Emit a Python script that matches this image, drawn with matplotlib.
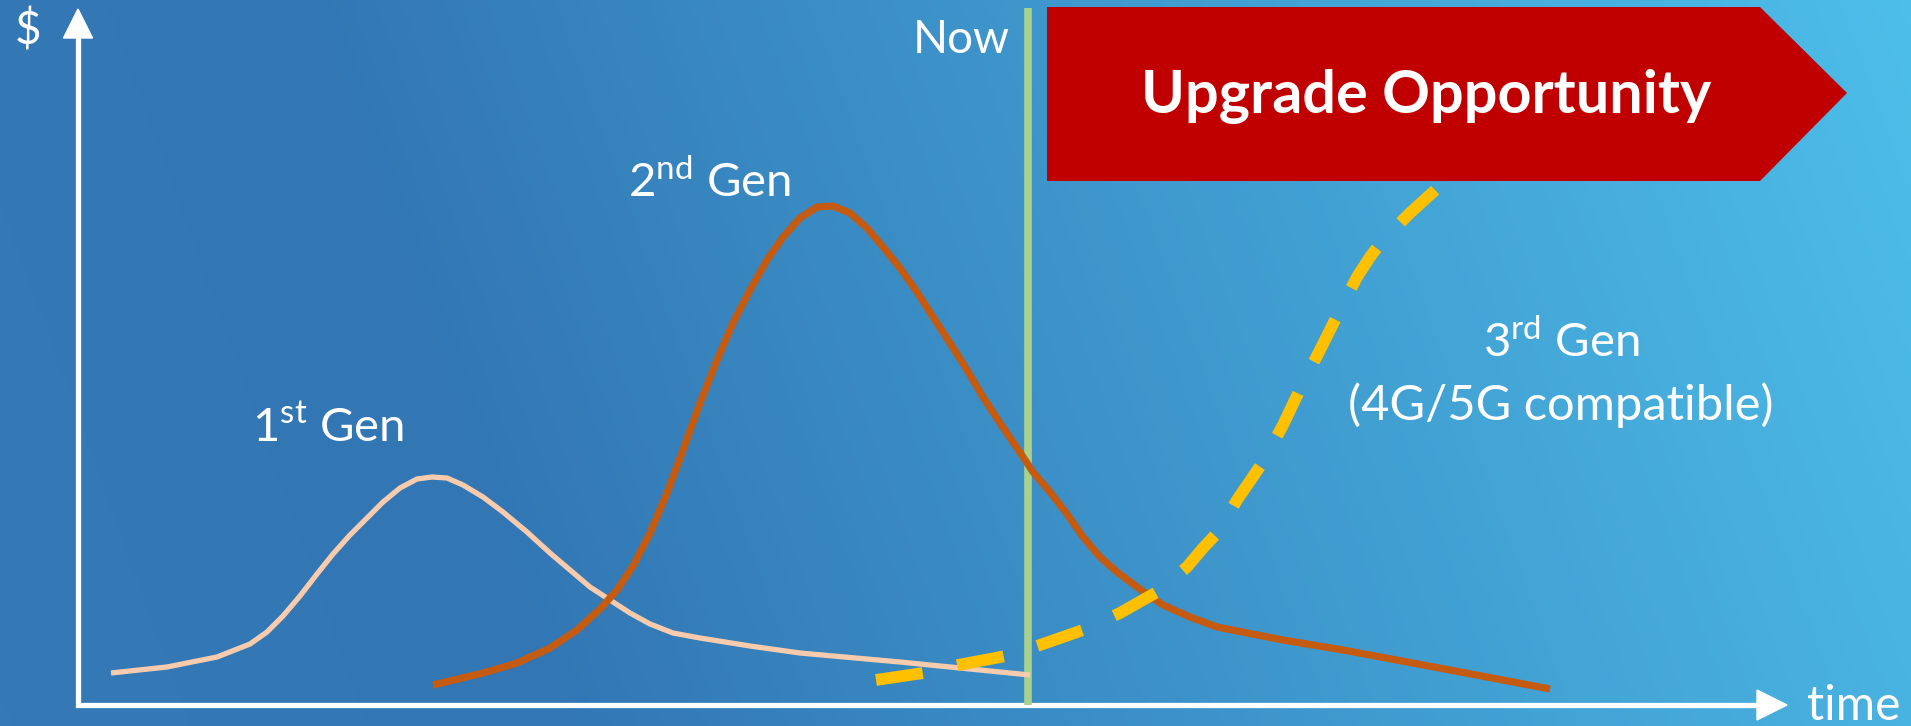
import numpy as np
import matplotlib.pyplot as plt
from matplotlib.colors import LinearSegmentedColormap
from matplotlib.patches import Polygon

plt.rcParams['font.family'] = ['Lato', 'DejaVu Sans']
plt.rcParams['mathtext.fontset'] = 'custom'
plt.rcParams['mathtext.rm'] = 'Lato'

# curves (time, $) - origin at the axes corner
gen1_t = [33, 89, 139, 172, 189, 205, 222, 239, 255, 272, 289, 305, 322, 339, 354,
          369, 385, 405, 425, 449, 472, 492, 512, 532, 552, 572, 595, 622, 672,
          722, 822, 952]
gen1_v = [32, 38, 48, 61, 73, 89, 109, 131, 151, 170, 187, 203, 217, 226, 228,
          227, 220, 208, 193, 173, 152, 135, 118, 105, 92, 81, 72, 67, 59,
          52, 43, 30]

gen2_t = [355, 405, 439, 472, 499, 522, 539, 555, 572, 589, 605, 622, 639, 655,
          672, 689, 705, 722, 739, 755, 772, 789, 805, 822, 839, 855, 872, 889,
          905, 922, 939, 955, 972, 989, 1005, 1022, 1039, 1059, 1085, 1112, 1139,
          1205, 1265, 1372, 1472]
gen2_v = [20, 32, 42, 57, 75, 96, 115, 139, 172, 212, 255, 302, 345, 382,
          415, 445, 468, 487, 498, 499, 492, 477, 458, 437, 413, 388, 362, 335,
          308, 282, 257, 233, 213, 191, 168, 148, 133, 118, 100, 88, 78,
          65, 55, 35, 16]

gen3_t = [798, 845, 880, 928, 962, 1005, 1042, 1079, 1109, 1125, 1142, 1159,
          1185, 1205, 1225, 1242, 1262, 1279, 1292, 1305, 1332, 1365, 1397]
gen3_v = [25, 32, 40, 49, 60, 75, 92, 113, 138, 157, 175, 205,
          243, 280, 322, 355, 395, 428, 448, 465, 492, 522, 545]

now_t = 950

W, H = 1911, 726
fig = plt.figure(figsize=(W / 100, H / 100), dpi=100)
ax = fig.add_axes([0, 0, 1, 1])
ax.set_xlim(-78, W - 78)
ax.set_ylim(-(H - 705), 705)
ax.axis('off')

# background gradient (left dark blue -> right light cyan)
xx, yy = np.meshgrid(np.linspace(0, 1, 400), np.linspace(0, 1, 150))
g = 0.88 * xx + 0.12 * (1 - yy)
cmap = LinearSegmentedColormap.from_list(
    'bg', [(0, '#3579B6'), (0.25, '#3276B4'), (1, '#4DBEE9')])
ax.imshow(g, cmap=cmap, vmin=0, vmax=1, extent=(-78, W - 78, -(H - 705), 705),
          origin='upper', aspect='auto', zorder=0)

# axes with arrowheads
ax.plot([0, 0, 1685], [670, 0, 0], color='white', lw=3.8,
        solid_joinstyle='miter', solid_capstyle='butt', zorder=2)
ax.add_patch(Polygon([(-14.5, 667), (14.5, 667), (0, 696)], closed=True,
                     color='white', zorder=2))
ax.add_patch(Polygon([(1679, 15), (1679, -15), (1709, 0)], closed=True,
                     color='white', zorder=2))

# "Now" line
ax.plot([now_t, now_t], [0, 697], color='#A9D18E', lw=5.5,
        solid_capstyle='butt', zorder=3)

ax.plot(gen1_t, gen1_v, color='#F8CBAD', lw=3.8, solid_capstyle='butt',
        solid_joinstyle='round', zorder=4)
ax.plot(gen2_t, gen2_v, color='#C55A11', lw=5.2, solid_capstyle='butt',
        solid_joinstyle='round', zorder=5)
ax.plot(gen3_t, gen3_v, color='#FFC000', lw=8.5, linestyle=(0, (4.0, 3.0)),
        dash_capstyle='butt', dash_joinstyle='round', zorder=6)

# banner
banner = Polygon([(969, 698), (1682, 698), (1769, 612), (1682, 524), (969, 524)],
                 closed=True, facecolor='#C00000', edgecolor='none', zorder=7)
ax.add_patch(banner)
ax.text(1348, 592, 'Upgrade Opportunity', color='white', fontsize=42.7,
        fontweight='bold', ha='center', va='baseline', zorder=8)

ax.text(932, 652, 'Now', color='white', fontsize=33, ha='right', va='baseline')
ax.text(-50, 660, '$', color='white', fontsize=33, ha='center', va='baseline')
ax.text(1729, -15, 'time', color='white', fontsize=34.5, ha='left', va='baseline')

ax.text(174, 263, r'1$^{\mathrm{st}}$ Gen', color='white', fontsize=34,
        ha='left', va='baseline')
ax.text(550, 508, r'2$^{\mathrm{nd}}$ Gen', color='white', fontsize=34,
        ha='left', va='baseline')
ax.text(1483, 348, r'3$^{\mathrm{rd}}$ Gen', color='white', fontsize=34,
        ha='center', va='baseline')
ax.text(1483, 285, '(4G/5G compatible)', color='white', fontsize=35.2,
        ha='center', va='baseline')

fig.savefig('out.png', dpi=100)
